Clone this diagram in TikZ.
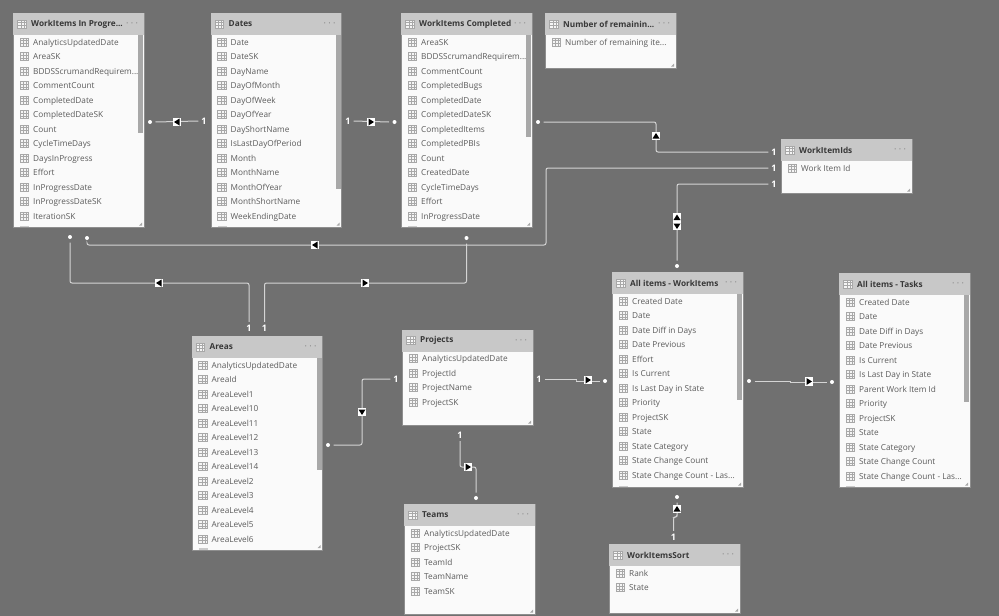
\documentclass[tikz,border=0pt]{standalone}
\usepackage{fontspec}
\setmainfont{Open Sans}
\usepackage{tikz}

\definecolor{canvasgray}{HTML}{707070}
\definecolor{titlegray}{HTML}{C8C8C8}
\definecolor{cardwhite}{HTML}{FAFAFA}
\definecolor{cardedge}{HTML}{8E8E8E}
\definecolor{scrollgray}{HTML}{A8A8A8}
\definecolor{linegray}{HTML}{D4D4D4}
\definecolor{fieldink}{HTML}{5C5C5C}
\definecolor{titleink}{HTML}{383838}
\definecolor{icongray}{HTML}{A8A8A8}

\tikzset{
  card/.style={draw=cardedge,fill=cardwhite,line width=0.8pt,anchor=north west,
    minimum width=130.5pt,inner sep=0pt},
  cardhead/.style={fill=titlegray,anchor=north west,minimum width=130.5pt,
    minimum height=22pt,inner sep=0pt},
  cardtitle/.style={anchor=west,inner sep=0pt,text=titleink,
    font=\fontsize{8.25}{10}\selectfont\bfseries},
  carddots/.style={anchor=center,inner sep=0pt,text=gray,font=\fontsize{9}{10}\selectfont},
  fieldtext/.style={anchor=west,inner sep=0pt,text=fieldink,text height=7pt,text depth=2pt,
    font=\fontsize{8.25}{10}\selectfont},
  gridicon/.style={draw=icongray,fill=white!88!icongray,line width=0.6pt,inner sep=0pt,
    minimum width=8.5pt,minimum height=8pt,
    path picture={
      \draw[icongray,line width=0.5pt]
        (path picture bounding box.north west)++(0,-2.7pt) -- ++(9pt,0)
        ++(-9pt,-2.7pt) -- ++(9pt,0) ++(-6pt,5.4pt) -- ++(0,-9pt) ++(3pt,0) -- ++(0,9pt);
    }},
  relation/.style={draw=linegray,line width=1pt,rounded corners=2pt},
  manydot/.style={circle,fill=white,inner sep=0pt,minimum size=4pt,outer sep=3.5pt},
  onemark/.style={inner sep=0pt,outer sep=3pt,text=white,font=\fontsize{9}{10}\selectfont\bfseries},
  flag/.style={fill=white,inner sep=0pt,minimum width=8pt,minimum height=8.5pt},
  flagleft/.style={flag,path picture={\fill[black] ([shift={(-3pt,0)}]path picture bounding box.center)
    -- ++(5.5pt,3.5pt) -- ++(0,-7pt) -- cycle;}},
  flagright/.style={flag,path picture={\fill[black] ([shift={(3pt,0)}]path picture bounding box.center)
    -- ++(-5.5pt,3.5pt) -- ++(0,-7pt) -- cycle;}},
  flagup/.style={flag,path picture={\fill[black] ([shift={(0,3pt)}]path picture bounding box.center)
    -- ++(3.5pt,-5.5pt) -- ++(-7pt,0) -- cycle;}},
  flagdown/.style={flag,path picture={\fill[black] ([shift={(0,-3pt)}]path picture bounding box.center)
    -- ++(3.5pt,5.5pt) -- ++(-7pt,0) -- cycle;}},
}

% cut-off names, written so that \foreach does not read them as a range
\newcommand{\cutoff}{...}

% name, x, y, height, title, fields
\newcommand{\tablecard}[6]{
  \node[card,minimum height=#4pt] (#1) at (#2,#3) {};
  \node[cardhead] (#1head) at (#2,#3) {};
  \node[gridicon] (#1icon) at (#2+9,#3+11) {};
  \node[cardtitle] (#1title) at (#2+18,#3+11) {#5};
  \node[carddots] (#1dots) at (#2+119,#3+12) {· · ·};
  \foreach \fname [count=\i from 0] in {#6} {
    \node[gridicon] (#1icon\i) at (#2+11.5,#3+29+14.5*\i) {};
    \node[fieldtext] (#1field\i) at (#2+20,#3+29.6+14.5*\i) {\fname};
  }
  \fill[icongray] (#2+126,#3+#4-1.5) -- (#2+129,#3+#4-1.5) -- (#2+129,#3+#4-4.5) -- cycle;
}

\begin{document}
\begin{tikzpicture}[x=1pt,y=-1pt]
  \useasboundingbox (0,0) rectangle (999,616);
  \fill[canvasgray] (0,0) rectangle (999,616);

  % tables
  \tablecard{progress}{13}{13}{214}{WorkItems In Progre...}{AnalyticsUpdatedDate,AreaSK,BDDSScrumandRequirem\cutoff,CommentCount,CompletedDate,CompletedDateSK,Count,CycleTimeDays,DaysInProgress,Effort,InProgressDate,InProgressDateSK,IterationSK}
  \tablecard{dates}{210.5}{13}{214}{Dates}{Date,DateSK,DayName,DayOfMonth,DayOfWeek,DayOfYear,DayShortName,IsLastDayOfPeriod,Month,MonthName,MonthOfYear,MonthShortName,WeekEndingDate}
  \tablecard{completed}{401}{13}{214}{WorkItems Completed}{AreaSK,BDDSScrumandRequirem\cutoff,CommentCount,CompletedBugs,CompletedDate,CompletedDateSK,CompletedItems,CompletedPBIs,Count,CreatedDate,CycleTimeDays,Effort,InProgressDate}
  \tablecard{remaining}{545}{13}{55}{Number of remainin...}{Number of remaining ite\cutoff}
  \tablecard{itemids}{781}{139}{54}{WorkItemIds}{Work Item Id}
  \tablecard{allitems}{612}{272}{215}{All items - WorkItems}{Created Date,Date,Date Diff in Days,Date Previous,Effort,Is Current,Is Last Day in State,Priority,ProjectSK,State,State Category,State Change Count,State Change Count - Las\cutoff}
  \tablecard{alltasks}{839}{273}{214}{All items - Tasks}{Created Date,Date,Date Diff in Days,Date Previous,Is Current,Is Last Day in State,Parent Work Item Id,Priority,ProjectSK,State,State Category,State Change Count,State Change Count - Las\cutoff}
  \tablecard{areas}{191.5}{336}{213.5}{Areas}{AnalyticsUpdatedDate,AreaId,AreaLevel1,AreaLevel10,AreaLevel11,AreaLevel12,AreaLevel13,AreaLevel14,AreaLevel2,AreaLevel3,AreaLevel4,AreaLevel5,AreaLevel6}
  \tablecard{projects}{402}{329.5}{95.5}{Projects}{AnalyticsUpdatedDate,ProjectId,ProjectName,ProjectSK}
  \tablecard{teams}{404}{504}{110}{Teams}{AnalyticsUpdatedDate,ProjectSK,TeamId,TeamName,TeamSK}
  \tablecard{sort}{609}{544}{69}{WorkItemsSort}{Rank,State}

  % scrollbars
  \fill[scrollgray] (138,35) rectangle (143,133);
  \fill[scrollgray] (335.5,35) rectangle (340.5,189);
  \fill[scrollgray] (526,35) rectangle (531,137);
  \fill[scrollgray] (737,294) rectangle (742,400);
  \fill[scrollgray] (964,295) rectangle (969,402);
  \fill[scrollgray] (316.5,358) rectangle (321.5,470);

  % next rows, cut off by the table edge
  \foreach \stubx/\stuby in {20/225.5,217.5/225.5,408/225.5,619/485.5,846/485.5,198.5/548} {
    \fill[icongray!60!white] (\stubx,\stuby) rectangle (\stubx+9,\stuby+1.5);
  }

  % ends of the relations
  \node[manydot] (dot0) at (150,122) {};
  \node[onemark] (one0) at (204,121) {1};
  \node[onemark] (one1) at (348,121) {1};
  \node[manydot] (dot1) at (394.5,122) {};
  \node[manydot] (dot2) at (538,122) {};
  \node[onemark] (one2) at (774,152) {1};
  \node[onemark] (one3) at (774,168) {1};
  \node[manydot] (dot3) at (87,238) {};
  \node[onemark] (one4) at (774,184) {1};
  \node[manydot] (dot4) at (677,266) {};
  \node[manydot] (dot5) at (70,237) {};
  \node[onemark] (one5) at (249,328) {1};
  \node[manydot] (dot6) at (466.5,238) {};
  \node[onemark] (one6) at (264.5,328) {1};
  \node[manydot] (dot7) at (328,445) {};
  \node[onemark] (one7) at (396,379) {1};
  \node[onemark] (one8) at (539,379) {1};
  \node[manydot] (dot8) at (605,381) {};
  \node[manydot] (dot9) at (749,381) {};
  \node[manydot] (dot10) at (832,382) {};
  \node[onemark] (one9) at (460,435) {1};
  \node[manydot] (dot11) at (476,498) {};
  \node[manydot] (dot12) at (677,497) {};
  \node[onemark] (one10) at (673.5,537) {1};

  % bends
  \coordinate (bend2) at (656,136);
  \coordinate (bend3) at (546,245);
  \coordinate (bend5) at (249,283);
  \coordinate (bend6) at (264.5,283);
  \coordinate (bend7) at (362,412);
  \coordinate (bend8) at (576,380);
  \coordinate (bend9) at (790,381.5);
  \coordinate (bend10) at (468,467);
  \coordinate (bend11) at (677,517);

  % relations
  \path[relation] (dot0.east) -- (one0.west);
  \path[relation] (one1.east) -- (dot1.west);
  \path[relation] (dot2.east) -| (bend2) |- (one2.west);
  \path[relation] (dot3.south) |- (bend3) |- (one3.west);
  \path[relation] (one4.west) -| (dot4.north);
  \path[relation] (dot5.south) |- (bend5) -- (one5.north);
  \path[relation] (dot6.south) |- (bend6) -- (one6.north);
  \path[relation] (dot7.east) -| (bend7) |- (one7.west);
  \path[relation,sharp corners] (one8.east) -| (bend8) |- (dot8.west);
  \path[relation,sharp corners] (dot9.east) -| (bend9) |- (dot10.west);
  \path[relation] (one9.south) |- (bend10) -| (dot11.north);
  \path[relation] (dot12.south) |- (bend11) -| (one10.north);

  % arrow flags
  \node[flagleft] (flag0) at (177,122) {};
  \node[flagright] (flag1) at (371,122) {};
  \node[flagup] (flag2) at (bend2) {};
  \node[flagleft] (flag3) at (315,245) {};
  \node[flagup] (flag4) at (677,217.5) {};
  \node[flagdown] (flag5) at (677,226) {};
  \node[flagleft] (flag6) at (159,283) {};
  \node[flagright] (flag7) at (365,283) {};
  \node[flagdown] (flag8) at (bend7) {};
  \node[flagright] (flag9) at (588,380) {};
  \node[flagright] (flag10) at (809,381.5) {};
  \node[flagright] (flag11) at (bend10) {};
  \node[flagup] (flag12) at (677,509) {};
\end{tikzpicture}
\end{document}
